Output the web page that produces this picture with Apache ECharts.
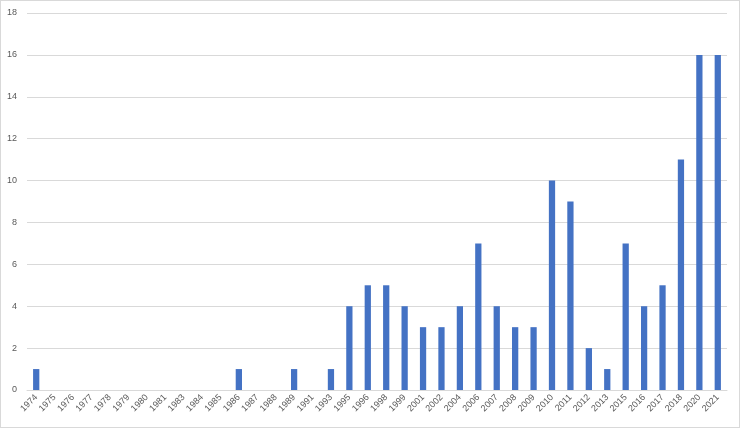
<!DOCTYPE html>
<html><head><meta charset="utf-8">
<script src="https://cdn.jsdelivr.net/npm/echarts@6/dist/echarts.min.js"></script>
<style>html,body{margin:0;padding:0;background:#fff}#c{width:740px;height:428px;box-sizing:border-box;border:1px solid #d9d9d9}</style>
</head><body><div id="c"></div>
<script>
const categories=["1974","1975","1976","1977","1978","1979","1980","1981","1983","1984","1985","1986","1987","1988","1989","1991","1993","1995","1996","1998","1999","2001","2002","2004","2006","2007","2008","2009","2010","2011","2012","2013","2015","2016","2017","2018","2020","2021"];
const values=[1,0,0,0,0,0,0,0,0,0,0,1,0,0,1,0,1,4,5,5,4,3,3,4,7,4,3,3,10,9,2,1,7,4,5,11,16,16];
const chart=echarts.init(document.getElementById('c'));
chart.setOption({
  animation:false,
  grid:{left:26,right:12,top:12,bottom:37,containLabel:false},
  xAxis:{type:'category',data:categories,
    axisLine:{lineStyle:{color:'#d9d9d9'}},axisTick:{show:false},
    axisLabel:{rotate:45,color:'#595959',fontSize:9,fontFamily:'Liberation Sans, Arial',interval:0,margin:6}},
  yAxis:{type:'value',min:0,max:18,interval:2,
    axisLine:{show:false},axisTick:{show:false},
    splitLine:{lineStyle:{color:'#d9d9d9'}},
    axisLabel:{color:'#595959',fontSize:9,fontFamily:'Liberation Sans, Arial',margin:10}},
  series:[{type:'bar',data:values,barWidth:'34%',itemStyle:{color:'#4472c4'}}]
});
</script></body></html>
